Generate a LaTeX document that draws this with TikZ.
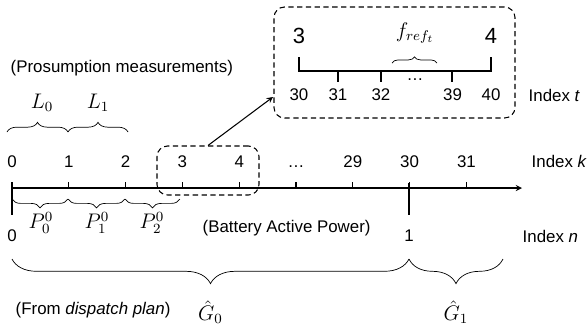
\documentclass[tikz,border=0pt]{standalone}
\usepackage{fontspec}
\setmainfont{Liberation Sans}
\usetikzlibrary{decorations.pathreplacing}

\begin{document}
\begin{tikzpicture}[
        font=\fontsize{9.6}{11.5}\selectfont,
        llave/.style={decorate,decoration={brace,amplitude=#1}},
        llaveinv/.style={decorate,decoration={brace,mirror,amplitude=#1}},
        caja/.style={draw,densely dashed,semithick,rounded corners=6pt,inner sep=0pt},
        mat/.style={font=\fontsize{11.5}{13}\selectfont,inner sep=0.5pt},
        grande/.style={font=\fontsize{12.5}{15}\selectfont}
    ]

        \useasboundingbox (0,0) rectangle (11.74,6.54);

        % Eje principal (indice k)
        \coordinate (O) at (0.24,2.78);
        \coordinate (E) at (10.44,2.78);
        \draw[semithick,-stealth] (O) -- (E);

        \foreach \i/\lab in {0/0,1/1,2/2,3/3,4/4,5/\dots,6/29,7/30,8/31} {
            \draw[semithick] (0.24+1.136*\i,2.78) -- ++(0,0.12);
            \node[anchor=base] (k\i) at (0.24+1.136*\i,3.2) {\lab};
        }
        \node[anchor=west] (idxk) at (10.51,3.32) {Index \textit{k}};

        % Marcas del indice n
        \draw[very thick] (0.24,2.88) -- (0.24,2.24);
        \draw[very thick] (8.18,2.88) -- (8.18,2.24);
        \node[inner sep=1pt] (n0) at (0.24,1.82) {0};
        \node[inner sep=1pt] (n1) at (8.18,1.82) {1};
        \node[anchor=west] (idxn) at (10.33,1.82) {Index \textit{n}};

        % Mediciones
        \node[anchor=west] (medidas) at (0.09,5.18) {(Prosumption measurements)};
        \draw[llave=5.5pt] (0.14,3.9) -- (1.36,3.9);
        \draw[llave=5.5pt] (1.36,3.9) -- (2.56,3.9);
        \node[mat] (L0) at (0.84,4.48) {$L_0$};
        \node[mat] (L1) at (1.96,4.48) {$L_1$};

        % Potencia de la bateria
        \draw[llaveinv=5pt] (0.24,2.56) -- (1.36,2.56);
        \draw[llaveinv=5pt] (1.36,2.56) -- (2.5,2.56);
        \draw[llaveinv=5pt] (2.5,2.56) -- (3.6,2.56);
        \node[mat] (P0) at (0.82,2.08) {$P_0^0$};
        \node[mat] (P1) at (1.94,2.08) {$P_1^0$};
        \node[mat] (P2) at (3.04,2.08) {$P_2^0$};
        \node[anchor=west] (bateria) at (3.93,1.98) {(Battery Active Power)};

        % Plan de despacho
        \draw[llaveinv=14pt] (0.24,1.36) -- (8.18,1.36);
        \draw[llaveinv=14pt] (8.18,1.36) -- (10.06,1.36);
        \node[mat] (G0) at (4.21,0.3) {$\hat{G}_0$};
        \node[mat] (G1) at (9.12,0.3) {$\hat{G}_1$};
        \node[anchor=west] (plan) at (0.19,0.34) {(From \textit{dispatch plan})};

        % Ampliacion del intervalo
        \node[caja,minimum width=2.04cm,minimum height=0.98cm] (zoomsrc) at (4.16,3.13) {};
        \node[caja,minimum width=4.82cm,minimum height=2.22cm] (zoombox) at (7.89,5.29) {};
        \coordinate (zoomin) at (5.46,4.6);
        \draw[semithick,-stealth] (zoomsrc.north) -- (zoomin);

        \node[grande] (t3) at (5.98,5.82) {3};
        \node[grande] (t4) at (9.82,5.82) {4};
        \draw[semithick] (5.98,5.4) -- (5.98,5.12) -- (9.82,5.12) -- (9.82,5.4);
        \foreach \x in {6.76,7.62,9.04} {
            \draw[semithick] (\x,5.12) -- ++(0,-0.22);
        }
        \node[anchor=base] (tdots) at (8.3,4.94) {\dots};
        \foreach \x/\lab in {5.98/30,6.76/31,7.62/32,9.05/39,9.82/40} {
            \node (t\lab) at (\x,4.64) {\lab};
        }
        \draw[llave=3.5pt] (7.84,5.28) -- (8.74,5.28);
        \node[mat] (fref) at (8.3,5.88) {$f_{ref_t}$};
        \node[anchor=west] (idxt) at (10.45,4.64) {Index \textit{t}};

    \end{tikzpicture}
\end{document}
